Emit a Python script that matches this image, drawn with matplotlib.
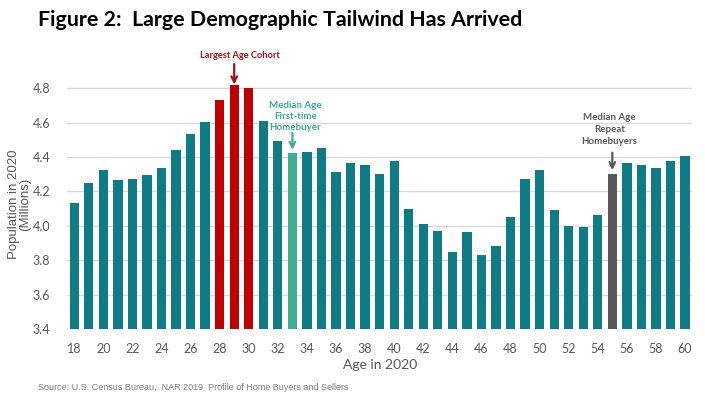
import matplotlib
matplotlib.use("Agg")
import matplotlib.pyplot as plt

ages = list(range(18, 61))
population = [4.135, 4.25, 4.326, 4.264, 4.275, 4.294, 4.337, 4.441, 4.532, 4.605,
              4.732, 4.817, 4.803, 4.609, 4.495, 4.422, 4.428, 4.453, 4.312, 4.366,
              4.355, 4.300, 4.379, 4.098, 4.013, 3.970, 3.849, 3.965, 3.832, 3.886,
              4.051, 4.275, 4.326, 4.092, 4.002, 3.994, 4.061, 4.304, 4.366, 4.355,
              4.335, 4.379, 4.408]
red_ages = [28, 29, 30]
first_time_age = 33
repeat_age = 55
yticks = [3.4, 3.6, 3.8, 4.0, 4.2, 4.4, 4.6, 4.8]
xticks = list(range(18, 61, 2))

TEAL = "#0F7B84"
RED = "#C00000"
GREEN = "#3DAE8F"
GRAY = "#595959"

colors = []
for a in ages:
    if a in red_ages:
        colors.append(RED)
    elif a == first_time_age:
        colors.append(GREEN)
    elif a == repeat_age:
        colors.append(GRAY)
    else:
        colors.append(TEAL)

fig = plt.figure(figsize=(7.05, 3.98), dpi=100)
ax = fig.add_axes([0.095, 0.173, 0.887, 0.627])
ax.bar(ages, [p - 3.4 for p in population], bottom=3.4, width=0.64, color=colors, zorder=3)
ax.set_xlim(17.5, 60.5)
ax.set_ylim(3.4, 4.85)
ax.set_yticks(yticks)
ax.set_yticklabels([f"{v:.1f}" for v in yticks])
ax.set_xticks(xticks)
ax.grid(axis="y", color="#D9D9D9", linewidth=1, zorder=0)
for s in ax.spines.values():
    s.set_visible(False)
ax.tick_params(length=0, labelsize=9, colors="#595959", pad=10)
ax.tick_params(axis="y", pad=12)
for lab in ax.get_xticklabels() + ax.get_yticklabels():
    lab.set_family("Lato")

ax.set_xlabel("Age in 2020", family="Lato", fontsize=10, color="#595959", labelpad=3)
ax.set_ylabel("Population in 2020\n(Millions)", family="Liberation Sans",
              fontsize=9.5, color="#595959", linespacing=0.9, labelpad=1)

fig.text(38 / 705, 1 - 20 / 398, "Figure 2:  Large Demographic Tailwind Has Arrived",
         family="Lato", fontweight="bold", fontsize=15.4, va="center", ha="left", color="black")

def ann(age, text, color, ytext, arrow_top, arrow_bot, xoff=0.0, ls=1.15, fs=7):
    ax.annotate("", xy=(age, arrow_bot), xytext=(age, arrow_top),
                arrowprops=dict(arrowstyle="->", color=color, lw=1.6,
                                shrinkA=0, shrinkB=0, mutation_scale=10),
                annotation_clip=False)
    ax.text(age + xoff, ytext, text, color=color, family="Lato", fontweight="bold",
            fontsize=fs, ha="center", va="bottom", linespacing=ls)

pv = dict(zip(ages, population))
ann(29, "Largest Age Cohort", "#A50F15", 4.962, 4.94, pv[29] + 0.005, xoff=0.4, fs=6.7)
ann(33, "Median Age\nFirst-time\nHomebuyer", GREEN, 4.545, 4.54, pv[33] + 0.02, xoff=0.2, ls=1.3)
ann(55, "Median Age\nRepeat\nHomebuyers", "#595959", 4.466, 4.425, pv[55] + 0.02, xoff=-0.2, ls=1.4)

fig.text(38 / 705, 1 - 387 / 398, "Source: U.S. Census Bureau,  NAR 2019  Profile of Home Buyers and Sellers",
         family="Liberation Sans", fontsize=6.5, color="#7F7F7F", va="center", ha="left")

fig.savefig("out.png", dpi=100)
